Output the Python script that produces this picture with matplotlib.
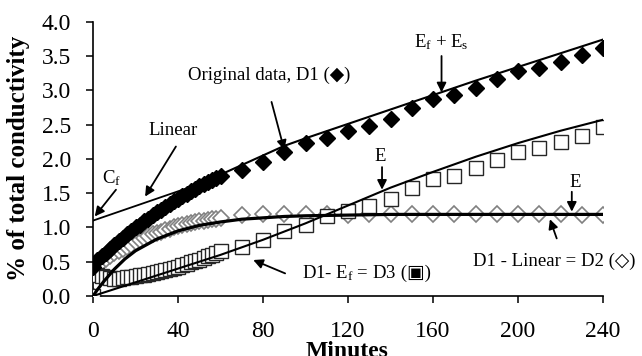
import matplotlib
matplotlib.use("Agg")
import matplotlib.pyplot as plt
from matplotlib.transforms import offset_copy

plt.rcParams['font.family'] = ['Liberation Serif', 'DejaVu Sans']
plt.rcParams['mathtext.fontset'] = 'custom'
plt.rcParams['mathtext.rm'] = 'Liberation Serif'
plt.rcParams['mathtext.it'] = 'Liberation Serif:italic'

# sampling times (minutes): dense part then every 10 min
t_dense = [0, 2, 4, 6, 8, 10, 12, 14, 16, 18, 20, 22, 24, 26, 28, 30,
           32, 34, 36, 38, 40, 42, 44, 46, 48, 50, 52, 54, 56, 58, 60]
t_sparse = [70, 80, 90, 100, 110, 120, 130, 140, 150, 160,
            170, 180, 190, 200, 210, 220, 230, 240]

# original data D1 (filled diamonds)
d1_dense = [0.42, 0.52, 0.58, 0.63, 0.69, 0.74, 0.80, 0.85, 0.90, 0.95, 1.00,
            1.04, 1.09, 1.13, 1.18, 1.22, 1.26, 1.30, 1.34, 1.38, 1.42, 1.46,
            1.49, 1.53, 1.56, 1.60, 1.63, 1.66, 1.69, 1.72, 1.75]
d1_sparse = [1.84, 1.96, 2.10, 2.23, 2.31, 2.40, 2.48, 2.58, 2.74, 2.88,
             2.93, 3.04, 3.16, 3.28, 3.32, 3.41, 3.52, 3.62]

# D2 = D1 - Linear (open diamonds)
d2_dense = [0.0, 0.44, 0.50, 0.54, 0.58, 0.62, 0.66, 0.69, 0.72, 0.75, 0.79,
            0.82, 0.85, 0.87, 0.90, 0.92, 0.94, 0.96, 0.98, 1.00, 1.02, 1.03,
            1.05, 1.06, 1.08, 1.09, 1.10, 1.11, 1.12, 1.13, 1.14]
d2_sparse = [1.18, 1.19, 1.19, 1.20, 1.19, 1.18, 1.20, 1.19, 1.19, 1.20,
             1.20, 1.19, 1.19, 1.20, 1.19, 1.19, 1.18, 1.18]

# D3 = D1 - Ef (open squares)
d3_dense = [0.0, 0.30, 0.29, 0.27, 0.26, 0.25, 0.25, 0.26, 0.27, 0.28, 0.29,
            0.30, 0.31, 0.32, 0.34, 0.35, 0.36, 0.38, 0.39, 0.41, 0.43, 0.45,
            0.47, 0.49, 0.51, 0.53, 0.55, 0.58, 0.60, 0.63, 0.65]
d3_sparse = [0.72, 0.82, 0.95, 1.03, 1.16, 1.24, 1.31, 1.41, 1.58, 1.70,
             1.75, 1.86, 1.98, 2.10, 2.16, 2.25, 2.33, 2.46]

# fitted curves
fit_t = [0, 2, 5, 10, 15, 20, 30, 40, 50, 60, 70, 80, 90, 100,
         120, 140, 160, 180, 200, 220, 240]
fit_efes = [0.50, 0.56, 0.66, 0.81, 0.95, 1.07, 1.28, 1.46, 1.62, 1.77, 1.91,
            2.05, 2.19, 2.30, 2.51, 2.72, 2.93, 3.14, 3.34, 3.54, 3.74]
fit_e_d2 = [0.0, 0.09, 0.21, 0.39, 0.54, 0.66, 0.83, 0.95, 1.03, 1.08, 1.12,
            1.14, 1.16, 1.17, 1.18, 1.19, 1.19, 1.19, 1.19, 1.19, 1.19]
fit_e_d3 = [0.0, 0.02, 0.05, 0.10, 0.15, 0.20, 0.30, 0.40, 0.50, 0.60, 0.71,
            0.82, 0.94, 1.06, 1.32, 1.58, 1.81, 2.03, 2.23, 2.41, 2.57]
lin_t = [0, 60]
lin_y = [1.10, 1.74]

t_all = t_dense + t_sparse

fig = plt.figure(figsize=(6.42, 3.56), dpi=100)
ax = fig.add_axes([0.1449, 0.1685, 0.7944, 0.7705])

ax.plot(t_all, d2_dense + d2_sparse, ls='none', marker='D', ms=8.5,
        mfc='white', mec='#808080', mew=1.2, zorder=2)
ax.plot(t_all, d3_dense + d3_sparse, ls='none', marker='s', ms=10,
        mfc='white', mec='#262626', mew=1.0, zorder=3)
ax.plot(t_all, d1_dense + d1_sparse, ls='none', marker='D', ms=8,
        mfc='black', mec='black', zorder=4)

ax.plot(fit_t, fit_e_d2, color='black', lw=2.3, zorder=5)
ax.plot(fit_t, fit_e_d3, color='black', lw=1.5, zorder=5)
ax.plot(fit_t, fit_efes, color='black', lw=1.5, zorder=5)
ax.plot(lin_t, lin_y, color='black', lw=1.3, zorder=5)

ax.set_xlim(0, 240)
ax.set_ylim(0, 4.0)
ax.set_xticks([0, 40, 80, 120, 160, 200, 240])
ax.set_yticks([0, 0.5, 1.0, 1.5, 2.0, 2.5, 3.0, 3.5, 4.0])
ax.set_yticklabels(['%.1f' % v for v in ax.get_yticks()])
ax.tick_params(axis='x', labelsize=17, length=5, width=1.1, pad=13)
ax.tick_params(axis='y', labelsize=17, length=5, width=1.1, pad=11)
for s in ['top', 'right']:
    ax.spines[s].set_visible(False)
for s in ['left', 'bottom']:
    ax.spines[s].set_linewidth(1.2)

fig.text(19 / 642, 1 - 158 / 356, '% of total conductivity', rotation=90,
         ha='center', va='center', fontsize=18, fontweight='bold')
fig.text(347 / 642, 1 - 341 / 356, 'Minutes', ha='center', va='top',
         fontsize=17, fontweight='bold')

arr = dict(arrowstyle='-|>', color='black', lw=1.3, mutation_scale=14,
           shrinkA=0, shrinkB=0)
fs = 13.5

ax.annotate('', xy=(0.8, 1.16), xytext=(10.8, 1.55), arrowprops=arr)
ax.text(4.2, 1.72, r'C$_\mathrm{f}$', fontsize=fs, va='center', ha='left')

ax.annotate('', xy=(24.5, 1.45), xytext=(39, 2.18), arrowprops=arr)
ax.text(37.6, 2.41, 'Linear', fontsize=fs, va='center', ha='center')

ax.annotate('', xy=(90, 2.13), xytext=(84, 2.83), arrowprops=arr)
ax.text(44.7, 3.22, 'Original data, D1 (◆)', fontsize=fs, va='center',
        ha='left')

ax.annotate('', xy=(164, 2.97), xytext=(164, 3.50), arrowprops=arr)
ax.text(163.8, 3.70, r'E$_\mathrm{f}$ + E$_\mathrm{s}$', fontsize=fs,
        va='center', ha='center')

ax.annotate('', xy=(136, 1.55), xytext=(136, 1.88), arrowprops=arr)
ax.text(135, 2.03, 'E', fontsize=fs, va='center', ha='center')

ax.annotate('', xy=(225.3, 1.23), xytext=(225.3, 1.52), arrowprops=arr)
ax.text(226.8, 1.66, 'E', fontsize=fs, va='center', ha='center')

ax.annotate('', xy=(215, 1.12), xytext=(218.2, 0.84), arrowprops=arr)
ax.text(178.8, 0.50, 'D1 - Linear = D2 (◇)', fontsize=fs, va='center',
        ha='left', clip_on=False)

ax.annotate('', xy=(75.4, 0.525), xytext=(90.4, 0.33), arrowprops=arr)
d3_txt = ax.text(98.2, 0.335, r'D1- E$_\mathrm{f}$ = D3', fontsize=fs,
                 va='center', ha='left')
# the box symbol is not in the mathtext font, so it goes in its own text
fig.canvas.draw()
bb = d3_txt.get_window_extent()
x_end = ax.transData.inverted().transform((bb.x1, bb.y0))[0]
ax.text(x_end, 0.335, ' (▣)', fontsize=fs, va='center', ha='left',
        transform=offset_copy(ax.transData, fig=fig, x=0, y=0, units='points'))

fig.savefig('out.png', dpi=100)
